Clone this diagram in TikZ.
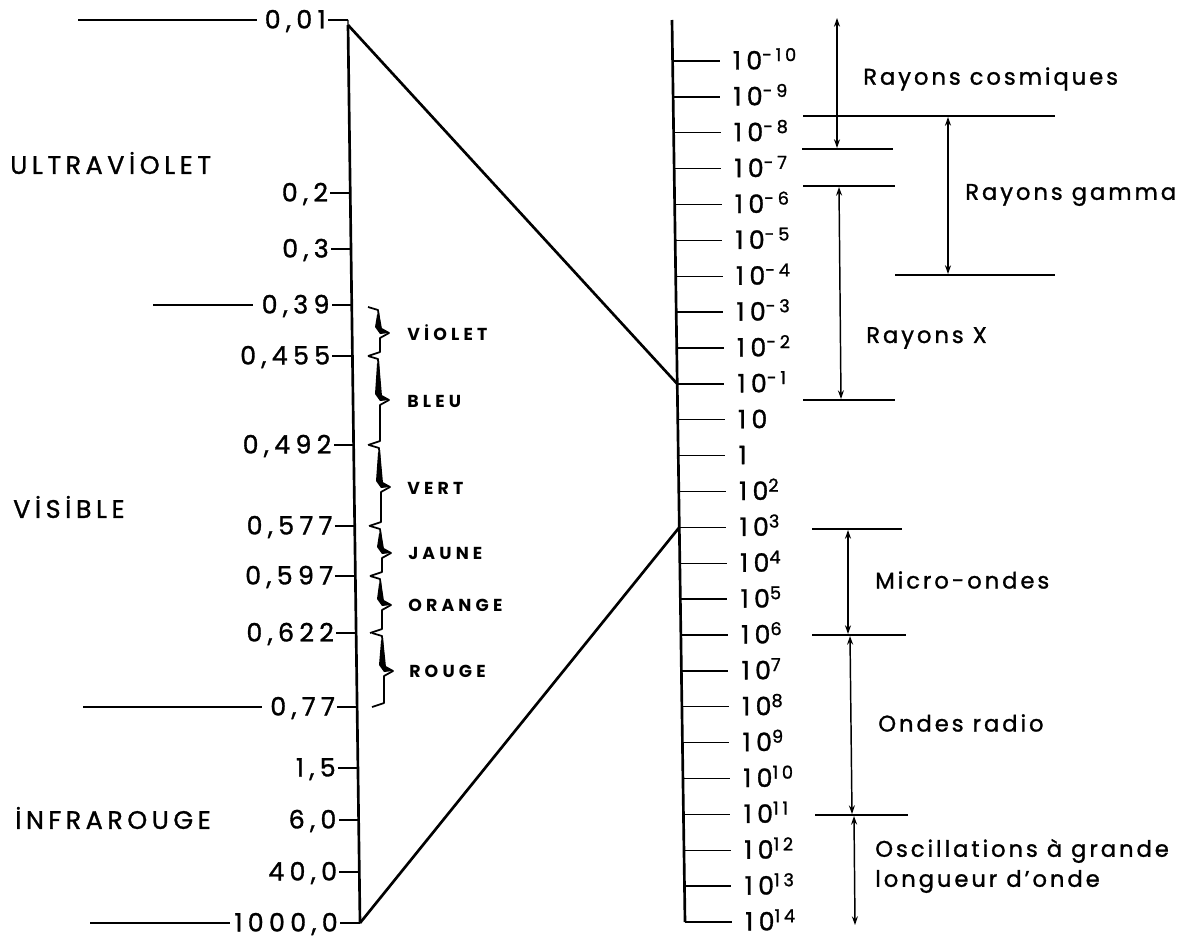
\documentclass[tikz,border=0pt]{standalone}
\usepackage{fontspec}
\setmainfont{Poppins}
\newfontfamily\numf{Poppins}[LetterSpace=21, FakeBold=1.2]
\newfontfamily\capf{Poppins}[LetterSpace=18, FakeBold=1.2]
\newfontfamily\lowf{Poppins}[LetterSpace=13, FakeBold=1.2]
\newfontfamily\colf{Poppins}[LetterSpace=24]
\usetikzlibrary{arrows.meta}
\begin{document}
\begin{tikzpicture}[x=0.75pt,y=-0.75pt,
  every node/.style={inner sep=0pt},
  num/.style={font=\numf\fontsize{19}{22}\selectfont},
  cat/.style={font=\capf\fontsize{19}{22}\selectfont},
  col/.style={font=\colf\bfseries\fontsize{13}{15}\selectfont},
  rng/.style={font=\lowf\fontsize{17}{22.5}\selectfont, align=left},
  ax/.style={line width=2pt},
  tck/.style={line width=1pt},
  hl/.style={line width=0.8pt},
  dbl/.style={line width=1.1pt, {Stealth[length=6.5pt,width=4.5pt]}-{Stealth[length=6.5pt,width=4.5pt]}}]
\useasboundingbox (0,0) rectangle (1195,938);
\fill[white] (0,0) rectangle (1195,938);

% axes
\coordinate (LT) at (348,25);
\coordinate (LB) at (360,923);
\coordinate (RT) at (672,20);
\coordinate (RB) at (685,922);
\draw[ax] (LT) -- (LB);
\draw[ax] (RT) -- (RB);

% left ticks
\foreach \y/\l [count=\k] in {20/{0,01},193/{0,2},249/{0,3},305/{0,39},356/{0,455},445/{0,492},526/{0,577},576/{0,597},633/{0,622},707/{0,77},768/{1,5},820/{6,0},872/{40,0},923/{1000,0}}{
  \pgfmathsetmacro\xa{348+(\y-25)*12/898}
  \coordinate (la\k) at (\xa,\y);
  \node[num,anchor=base east] (l\k) at (\xa-22,\y+8.5) {\l};
  \draw[tck] (la\k) -- ++(-20,0);
}
\draw[tck] (la1) -- (LT);

% long separators on the left
\coordinate (s1) at (78,20);
\coordinate (s2) at (153,305);
\coordinate (s3) at (83,707);
\coordinate (s4) at (90,923);
\draw[tck, shorten >=6pt] (s1) -- (l1.west |- s1);
\draw[tck, shorten >=6pt] (s2) -- (l4.west |- s2);
\draw[tck, shorten >=6pt] (s3) -- (l10.west |- s3);
\draw[tck, shorten >=3pt] (s4) -- (l14.west |- s4);

% category labels
\node[cat,anchor=west] (uv) at (10,163) {ULTRAVİOLET};
\node[cat,anchor=west] (vis) at (13,507) {VİSİBLE};
\node[cat,anchor=west] (ir) at (15,818) {İNFRAROUGE};

% right ticks
\foreach \l [count=\i from 0] in {{10\textsuperscript{-10}},{10\textsuperscript{-9}},{10\textsuperscript{-8}},{10\textsuperscript{-7}},{10\textsuperscript{-6}},{10\textsuperscript{-5}},{10\textsuperscript{-4}},{10\textsuperscript{-3}},{10\textsuperscript{-2}},{10\textsuperscript{-1}},{10},{1},{10\textsuperscript{2}},{10\textsuperscript{3}},{10\textsuperscript{4}},{10\textsuperscript{5}},{10\textsuperscript{6}},{10\textsuperscript{7}},{10\textsuperscript{8}},{10\textsuperscript{9}},{10\textsuperscript{10}},{10\textsuperscript{11}},{10\textsuperscript{12}},{10\textsuperscript{13}},{10\textsuperscript{14}}}{
  \pgfmathsetmacro\yy{61+\i*35.875}
  \pgfmathsetmacro\xx{672+(\yy-20)*13/903}
  \coordinate (ra\i) at (\xx,\yy);
  \draw[tck] (ra\i) -- ++(47,0);
  \node[num,anchor=base west] (r\i) at (\xx+60,\yy+8.5) {\l};
}

% diagonals
\draw[ax] (LT) -- (ra9);
\draw[ax] (LB) -- (ra13);

% spectrum brace pieces
\foreach \a/\t/\b/\d in {307/333/356/0, 356/400/445/0, 445/487/526/1, 526/553/576/2, 576/605/633/2, 633/671/707/4}{
  \begin{scope}[xshift=\d*0.75pt]
    \fill (379,\a+5) -- (382,\t-4) -- (389,\t) -- (380,\t+1) -- (375,\t-6) -- (377,\a+8) -- cycle;
    \draw[line width=1.3pt, line join=round] (368,\a) -- (378,\a+3) -- (380,\t-5) -- (389,\t) -- (380,\t+5) -- (380,\b-4) -- (368,\b);
  \end{scope}
}
\node[col,anchor=west] (cv) at (407,333) {VİOLET};
\node[col,anchor=west] (cb) at (407,401) {BLEU};
\node[col,anchor=west] (cg) at (407,488) {VERT};
\node[col,anchor=west] (cy) at (408,553) {JAUNE};
\node[col,anchor=west] (co) at (408,605) {ORANGE};
\node[col,anchor=west] (cr) at (409,671) {ROUGE};

% range separators
\coordinate (h1a) at (803,116); \coordinate (h1b) at (1055,116);
\coordinate (h2a) at (802,149); \coordinate (h2b) at (893,149);
\coordinate (h3a) at (803,186); \coordinate (h3b) at (895,186);
\coordinate (h4a) at (895,275); \coordinate (h4b) at (1055,275);
\coordinate (h5a) at (803,400); \coordinate (h5b) at (895,400);
\coordinate (h6a) at (812,529); \coordinate (h6b) at (902,529);
\coordinate (h7a) at (812,635); \coordinate (h7b) at (906,635);
\coordinate (h8a) at (815,815); \coordinate (h8b) at (908,815);
\draw[hl] (h1a) -- (h1b);
\draw[hl] (h2a) -- (h2b);
\draw[hl] (h3a) -- (h3b);
\draw[hl] (h4a) -- (h4b);
\draw[hl] (h5a) -- (h5b);
\draw[hl] (h6a) -- (h6b);
\draw[line width=1.4pt] (h7a) -- (h7b);
\draw[hl] (h8a) -- (h8b);

% range arrows
\coordinate (a1) at (837,18);  \coordinate (a2) at (837,148);
\coordinate (g1) at (948,117); \coordinate (g2) at (948,274);
\coordinate (x1) at (839,187); \coordinate (x2) at (841,399);
\coordinate (m1) at (848,530); \coordinate (m2) at (848,634);
\coordinate (o1) at (850,636); \coordinate (o2) at (852,814);
\coordinate (q1) at (854,816); \coordinate (q2) at (855,925);
\draw[dbl] (a1) -- (a2);
\draw[dbl] (g1) -- (g2);
\draw[dbl] (x1) -- (x2);
\draw[dbl] (m1) -- (m2);
\draw[dbl] (o1) -- (o2);
\draw[dbl] (q1) -- (q2);

% range labels
\node[rng,anchor=west] (tc) at (863,79) {Rayons cosmiques};
\node[rng,anchor=west] (tg) at (965,195) {Rayons gamma};
\node[rng,anchor=west] (tx) at (866,338) {Rayons X};
\node[rng,anchor=west] (tm) at (875,580) {Micro-ondes};
\node[rng,anchor=west] (tr) at (878,723) {Ondes radio};
\node[rng,anchor=west] (to) at (875,866) {Oscillations à grande\\longueur d’onde};
\end{tikzpicture}
\end{document}
